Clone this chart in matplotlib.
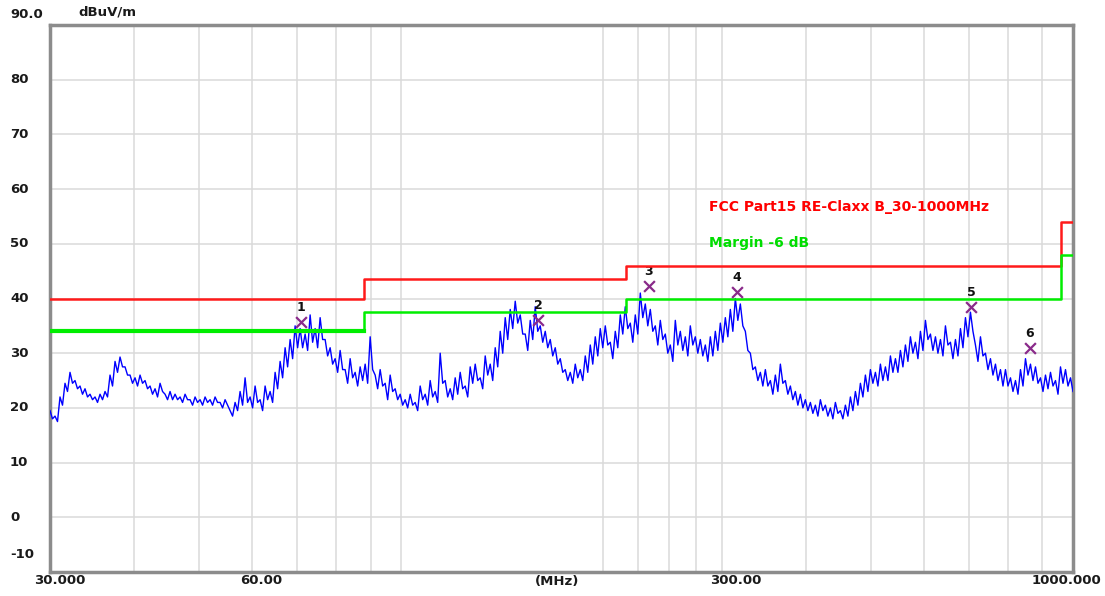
import numpy as np
import matplotlib
matplotlib.use("Agg")
import matplotlib.pyplot as plt
from matplotlib import transforms

# ---------------- data ----------------
f_start, f_stop = 30.0, 1000.0
# measured trace (dBuV/m), read at even log-frequency steps across the sweep:
# upper edge (peaks) and lower edge (dips) of the noisy trace at each step
trace_peak = [
    19.5, 18.5, 22.0, 24.5, 26.5, 25.0, 24.0, 23.5, 22.5, 22.0,
    22.5, 23.0, 26.0, 28.5, 29.3, 27.5, 26.0, 25.5, 26.0, 25.0,
    24.0, 23.5, 24.5, 22.5, 23.0, 22.5, 22.0, 22.5, 21.5, 22.0,
    21.5, 22.0, 21.5, 22.0, 21.0, 21.5, 19.5, 21.0, 23.0, 25.5,
    22.0, 24.0, 21.5, 24.0, 23.0, 26.5, 28.5, 31.0, 32.5, 35.0,
    34.5, 33.5, 37.0, 34.5, 36.5, 32.5, 31.0, 29.0, 30.5, 27.0,
    29.0, 26.5, 27.5, 28.0, 33.0, 26.0, 27.0, 24.5, 26.0, 23.5,
    22.5, 21.5, 22.5, 21.0, 24.0, 22.5, 25.0, 23.0, 30.0, 25.0,
    23.5, 25.5, 26.5, 24.0, 27.5, 28.0, 25.5, 29.5, 28.0, 31.0,
    34.0, 36.5, 38.0, 39.5, 37.0, 33.5, 36.0, 38.5, 35.0, 34.0,
    32.5, 31.0, 29.0, 27.0, 26.5, 28.0, 27.0, 29.5, 31.5, 33.0,
    34.5, 35.0, 32.0, 34.0, 37.0, 38.5, 35.5, 37.0, 41.0, 39.0,
    38.0, 35.0, 36.0, 33.5, 31.5, 36.0, 34.0, 33.0, 35.0, 33.0,
    32.5, 31.5, 33.0, 34.0, 35.5, 36.5, 38.0, 40.0, 39.0, 34.0,
    30.0, 27.5, 26.5, 27.0, 25.0, 26.0, 28.0, 25.0, 24.0, 23.0,
    22.5, 21.5, 21.0, 20.5, 21.5, 20.5, 20.0, 21.0, 19.5, 20.5,
    22.0, 23.0, 24.5, 26.0, 27.0, 26.5, 28.0, 27.5, 29.5, 29.0,
    30.5, 31.5, 33.0, 32.0, 34.0, 36.0, 33.5, 33.0, 32.5, 35.0,
    32.0, 32.5, 34.5, 36.5, 37.5, 31.5, 33.0, 30.0, 29.0, 28.0,
    27.0, 27.0, 25.5, 25.0, 27.0, 29.0, 28.0, 27.5, 25.5, 26.0,
    26.5, 25.0, 27.5, 27.0, 25.5,
]
trace_dip = [
    18.0, 17.5, 20.5, 23.0, 24.5, 23.5, 22.5, 22.0, 21.5, 21.0, 21.5, 22.0,
    24.0, 26.5, 27.5, 26.0, 24.5, 24.0, 24.5, 23.5, 22.5, 22.0, 23.0, 21.5,
    21.5, 21.5, 21.0, 21.5, 20.5, 21.0, 20.5, 21.0, 20.5, 21.0, 20.0, 20.5,
    18.5, 19.5, 20.5, 21.0, 20.0, 21.0, 19.5, 21.5, 21.0, 23.5, 25.5, 27.5,
    29.0, 31.0, 31.0, 30.5, 32.0, 31.0, 32.5, 29.5, 28.0, 26.5, 27.0, 24.5,
    25.5, 24.0, 25.0, 24.5, 27.0, 23.5, 24.0, 21.5, 23.0, 21.5, 20.5, 20.0,
    20.5, 19.5, 21.5, 20.5, 22.0, 21.0, 24.5, 22.0, 21.5, 22.5, 23.5, 22.0,
    24.5, 25.0, 23.5, 26.0, 25.0, 27.5, 30.0, 32.5, 34.5, 35.5, 33.5, 30.5,
    32.5, 34.0, 32.0, 31.0, 29.5, 28.0, 26.5, 25.0, 24.5, 25.5, 25.0, 26.5,
    28.0, 29.5, 31.0, 31.5, 29.0, 31.0, 33.5, 34.5, 32.0, 33.5, 36.5, 35.0,
    34.0, 31.5, 32.5, 30.0, 28.5, 31.5, 30.5, 29.5, 31.5, 30.0, 29.5, 28.5,
    29.5, 30.5, 32.0, 33.0, 34.0, 36.0, 35.0, 30.5, 27.0, 25.0, 24.0, 24.0,
    22.5, 23.0, 24.5, 22.5, 21.5, 20.5, 20.0, 19.5, 19.0, 18.5, 19.5, 18.5,
    18.0, 19.0, 18.0, 18.5, 19.5, 20.5, 22.0, 23.0, 24.5, 24.0, 25.0, 25.0,
    26.5, 26.5, 27.5, 28.5, 30.0, 29.0, 30.5, 32.5, 30.5, 30.0, 29.5, 31.5,
    29.0, 29.5, 31.0, 33.0, 34.0, 28.5, 29.5, 27.0, 26.0, 25.0, 24.0, 24.0,
    23.0, 22.5, 24.0, 26.0, 25.0, 24.5, 23.0, 23.5, 24.0, 22.5, 24.5, 24.0, 23.0,
]

# FCC Part 15 Class B limit (step function) and margin
limit_edges = [30.0, 88.0, 216.0, 960.0, 1000.0]
limit_levels = [40.0, 43.5, 46.0, 54.0]
margin_db = 6.0

# marked peaks
marker_ids = ["1", "2", "3", "4", "5", "6"]
marker_freq = [71.0, 160.0, 233.5, 316.0, 705.0, 863.0]
marker_level = [35.7, 36.1, 42.2, 41.2, 38.4, 30.9]

y_ticks = [80, 70, 60, 50, 40, 30, 20, 10, 0]
x_grid = [40, 50, 60, 70, 80, 90, 100, 200, 225, 250, 275, 300,
          400, 500, 600, 700, 800, 900]

# ---------------- plot ----------------
W, H = 1105, 596
fig = plt.figure(figsize=(W / 100, H / 100), dpi=100)
ax = fig.add_axes([50 / W, 1 - 572 / H, (1073 - 50) / W, (572 - 25) / H])
ax.set_xscale("log")
ax.set_xlim(f_start, f_stop)
ax.set_ylim(-10, 90)

for xv in x_grid:
    ax.axvline(xv, color="#dadada", lw=1.1, zorder=0)
for yv in range(0, 90, 10):
    ax.axhline(yv, color="#dadada", lw=1.1, zorder=0)

# interleave peaks and dips along the sweep
levels = []
for p, d in zip(trace_peak, trace_dip):
    levels += [p, d]
freq = np.geomspace(f_start, f_stop, len(levels))
ax.plot(freq, levels, color="#0000ff", lw=1.0, zorder=3)

lim_x = []
lim_y = []
for i, lv in enumerate(limit_levels):
    lim_x += [limit_edges[i], limit_edges[i + 1]]
    lim_y += [lv, lv]
ax.plot(lim_x, lim_y, color="#ff1a1a", lw=1.8, zorder=4)
ax.plot(lim_x, [v - margin_db for v in lim_y], color="#00ee00", lw=1.8, zorder=4)
ax.plot(lim_x[:2], [v - margin_db for v in lim_y[:2]], color="#00ee00", lw=3.0, zorder=4)

ax.scatter(marker_freq, marker_level, marker="x", s=60, color="#8a2a8a",
           linewidths=1.6, zorder=5)
for mid, mf, ml in zip(marker_ids, marker_freq, marker_level):
    ax.annotate(mid, (mf, ml), xytext=(0, 8), textcoords="offset pixels",
                ha="center", va="bottom", fontsize=9, fontweight="bold",
                color="#111111")

ax.text(0.644, 0.667, "FCC Part15 RE-Claxx B_30-1000MHz", transform=ax.transAxes,
        color="#ff0000", fontsize=10, fontweight="bold", va="center", ha="left")
ax.text(0.644, 0.601, "Margin -6 dB", transform=ax.transAxes,
        color="#00dd00", fontsize=10, fontweight="bold", va="center", ha="left")

for side in ["left", "right", "top", "bottom"]:
    ax.spines[side].set_color("#8c8c8c")
    ax.spines[side].set_linewidth(2.5)
ax.set_xticks([])
ax.set_xticks([], minor=True)
ax.set_yticks([])

bold = dict(fontsize=9.5, fontweight="bold", color="#1a1a1a")
ytr = transforms.blended_transform_factory(fig.transFigure, ax.transData)
for yv in y_ticks:
    fig.text(10 / W, yv, str(yv), transform=ytr, va="center", ha="left", **bold)
fig.text(10 / W, 1 - 15 / H, "90.0", va="center", ha="left", **bold)
fig.text(10 / W, 1 - 555 / H, "-10", va="center", ha="left", **bold)
fig.text(78 / W, 1 - 12 / H, "dBuV/m", va="center", ha="left", **bold)

fig.text(60 / W, 1 - 581 / H, "30.000", va="center", ha="center", **bold)
fig.text(261 / W, 1 - 581 / H, "60.00", va="center", ha="center", **bold)
fig.text(557 / W, 1 - 581 / H, "(MHz)", va="center", ha="center", **bold)
fig.text(736 / W, 1 - 581 / H, "300.00", va="center", ha="center", **bold)
fig.text(1066 / W, 1 - 581 / H, "1000.000", va="center", ha="center", **bold)

fig.savefig("out.png", dpi=100)
